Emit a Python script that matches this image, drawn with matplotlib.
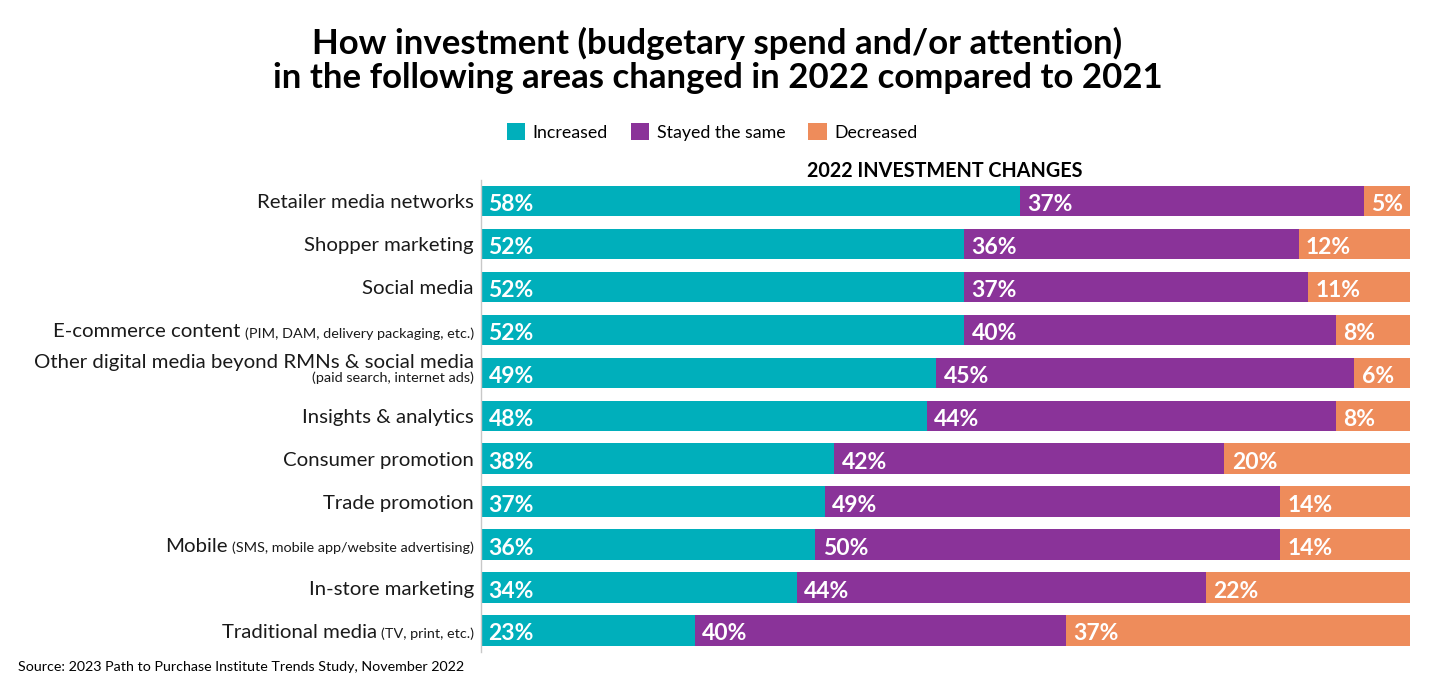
import matplotlib
matplotlib.use("Agg")
import matplotlib.pyplot as plt
from matplotlib.patches import Patch
from matplotlib.transforms import offset_copy

plt.rcParams['font.family'] = ['Lato', 'DejaVu Sans']

categories = [
    "Retailer media networks",
    "Shopper marketing",
    "Social media",
    "E-commerce content",
    "Other digital media beyond RMNs & social media",
    "Insights & analytics",
    "Consumer promotion",
    "Trade promotion",
    "Mobile",
    "In-store marketing",
    "Traditional media",
]
notes = [
    "",
    "",
    "",
    "(PIM, DAM, delivery packaging, etc.)",
    "(paid search, internet ads)",
    "",
    "",
    "",
    "(SMS, mobile app/website advertising)",
    "",
    "(TV, print, etc.)",
]
increased = [58, 52, 52, 52, 49, 48, 38, 37, 36, 34, 23]
stayed = [37, 36, 37, 40, 45, 44, 42, 49, 50, 44, 40]
decreased = [5, 12, 11, 8, 6, 8, 20, 14, 14, 22, 37]
series_names = ["Increased", "Stayed the same", "Decreased"]
colors = ["#00AFBB", "#8A3399", "#EE8C5B"]

W, H = 1440, 691
fig = plt.figure(figsize=(W / 100, H / 100), dpi=100)
ax = fig.add_axes([481 / W, 1 - 652 / H, (1410 - 481) / W, (652 - 179.5) / H])

ypos = list(range(len(categories)))
left = [0] * len(categories)
for vals, col in zip([increased, stayed, decreased], colors):
    ax.barh(ypos, vals, left=left, height=0.71, color=col, linewidth=0)
    for y, v, l in zip(ypos, vals, left):
        ax.text(l + 0.8, y + 0.08, f"{v}%", color="white", fontsize=16.5,
                fontweight="bold", ha="left", va="center")
    left = [a + b for a, b in zip(left, vals)]

ax.set_xlim(0, 100)
ax.set_ylim(len(categories) - 0.5, -0.5)
ax.set_xticks([])
ax.set_yticks([])
for s in ["top", "right", "bottom"]:
    ax.spines[s].set_visible(False)
ax.spines["left"].set_color("#c8c8c8")
ax.spines["left"].set_linewidth(1)

# category labels (main text + smaller note), right aligned
fig.canvas.draw()
renderer = fig.canvas.get_renderer()
base = offset_copy(ax.get_yaxis_transform(), fig=fig, x=-7, y=0, units="dots")
MAIN_FS = 14.7
NOTE_FS = 10.4
for y, cat, note in zip(ypos, categories, notes):
    if note and cat.startswith("Other"):
        ax.text(0, y - 0.25, cat, transform=base, ha="right", va="center",
                fontsize=MAIN_FS, color="#1a1a1a")
        ax.text(0, y + 0.11, note, transform=base, ha="right", va="center",
                fontsize=NOTE_FS, color="#1a1a1a")
    elif note:
        t = ax.text(0, y + 0.08, note, transform=base, ha="right", va="center",
                    fontsize=NOTE_FS, color="#1a1a1a")
        w = t.get_window_extent(renderer).width
        tr = offset_copy(ax.get_yaxis_transform(), fig=fig, x=-7 - w - 4, y=0,
                         units="dots")
        ax.text(0, y + 0.04, cat, transform=tr, ha="right", va="center",
                fontsize=MAIN_FS, color="#1a1a1a")
    else:
        ax.text(0, y + 0.04, cat, transform=base, ha="right", va="center",
                fontsize=MAIN_FS, color="#1a1a1a")

# title
fig.text(717 / W, 1 - 43 / H, "How investment (budgetary spend and/or attention)",
         ha="center", va="center", fontsize=25, fontweight="bold", color="black")
fig.text(718 / W, 1 - 78 / H, "in the following areas changed in 2022 compared to 2021",
         ha="center", va="center", fontsize=25, fontweight="bold", color="black")

# legend
handles = [Patch(facecolor=c, edgecolor="none") for c in colors]
fig.legend(handles, series_names, loc="center", bbox_to_anchor=(712 / W, 1 - 132 / H),
           ncol=3, frameon=False, fontsize=12.8, handlelength=1.05, handleheight=1.05,
           handletextpad=0.4, columnspacing=1.3)

# subtitle
fig.text(945 / W, 1 - 171 / H, "2022 INVESTMENT CHANGES", ha="center", va="center",
         fontsize=14.2, fontweight="bold", color="black")

# source
fig.text(18 / W, 1 - 667 / H, "Source: 2023 Path to Purchase Institute Trends Study, November 2022",
         ha="left", va="center", fontsize=10.3, color="black")

fig.savefig("out.png", dpi=100)
